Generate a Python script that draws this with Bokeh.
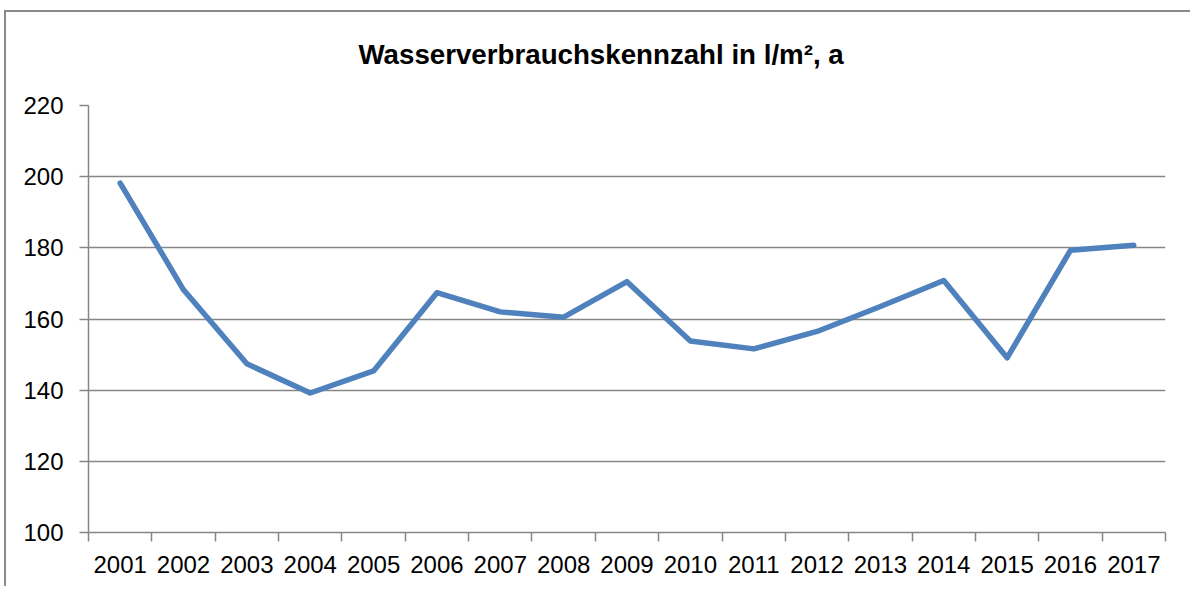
from bokeh.plotting import figure
from bokeh.models import FixedTicker, Range1d
from bokeh.embed import file_html
from bokeh.resources import INLINE

years = ["2001", "2002", "2003", "2004", "2005", "2006", "2007", "2008", "2009",
         "2010", "2011", "2012", "2013", "2014", "2015", "2016", "2017"]
values = [198.2, 168.2, 147.4, 139.2, 145.4, 167.4, 162.0, 160.5, 170.5,
          153.8, 151.6, 156.5, 163.5, 170.8, 149.1, 179.3, 180.7]
y_ticks = [100, 120, 140, 160, 180, 200, 220]
title_text = "Wasserverbrauchskennzahl in l/m², a"

GRAY = "#868686"
FONT = "Liberation Sans"

x_pos = [i + 0.5 for i in range(len(years))]

p = figure(width=1186, height=586, output_backend="svg", toolbar_location=None,
           x_range=Range1d(0, len(years)), y_range=Range1d(y_ticks[0], y_ticks[-1]),
           min_border_left=84, min_border_right=25, min_border_top=92, min_border_bottom=54,
           title=title_text)
p.outline_line_color = None
p.background_fill_color = "white"
p.border_fill_color = "white"
p.border_fill_alpha = 0.0
# outer chart-area frame (top and left edges) drawn behind the transparent canvas border
p.styles = {
    "margin-left": "4px",
    "margin-top": "0px",
    "background-color": "white",
    "background-image": "linear-gradient(#8a8a8a, #8a8a8a), linear-gradient(#8a8a8a, #8a8a8a)",
    "background-size": "100% 2px, 2px 100%",
    "background-position": "0px 10px, 0px 10px",
    "background-repeat": "no-repeat",
}

p.title.align = "left"
p.title.offset = 270
p.title.text_font = FONT
p.title.text_font_style = "bold"
p.title.text_font_size = "27.7px"
p.title.text_color = "black"
p.title.standoff = 72
p.title.vertical_align = "bottom"

p.line(x_pos, values, line_color="#4F81BD", line_width=5.5, line_join="round", line_cap="round")

# Y axis
p.yaxis.ticker = FixedTicker(ticks=y_ticks, minor_ticks=[])
p.yaxis.axis_line_color = GRAY
p.yaxis.axis_line_width = 1.5
p.yaxis.major_tick_line_color = GRAY
p.yaxis.major_tick_line_width = 1.5
p.yaxis.major_tick_out = 9
p.yaxis.major_tick_in = 0
p.yaxis.minor_tick_line_color = None
p.yaxis.major_label_text_font = FONT
p.yaxis.major_label_text_font_size = "24px"
p.yaxis.major_label_text_color = "black"
p.yaxis.major_label_standoff = 16

# X axis: labels at category centres, ticks on boundaries
p.xaxis.ticker = FixedTicker(ticks=x_pos, minor_ticks=list(range(len(years) + 1)))
p.xaxis.major_label_overrides = {x: y for x, y in zip(x_pos, years)}
p.xaxis.axis_line_color = GRAY
p.xaxis.axis_line_width = 1.5
p.xaxis.major_tick_line_color = None
p.xaxis.minor_tick_line_color = GRAY
p.xaxis.minor_tick_line_width = 1.5
p.xaxis.minor_tick_out = 9
p.xaxis.minor_tick_in = 0
p.xaxis.major_label_text_font = FONT
p.xaxis.major_label_text_font_size = "24px"
p.xaxis.major_label_text_color = "black"
p.xaxis.major_label_standoff = 14

p.xgrid.grid_line_color = None
p.ygrid.grid_line_color = GRAY
p.ygrid.grid_line_width = 1.5
p.ygrid.ticker = FixedTicker(ticks=y_ticks)

open("out.html", "w").write(file_html(p, INLINE))
